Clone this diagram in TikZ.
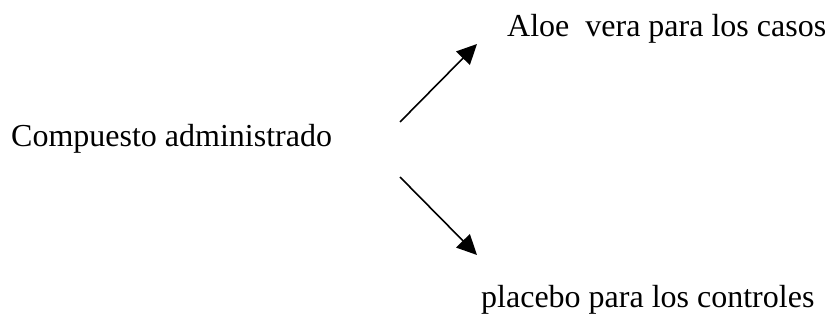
\documentclass[tikz,border=0pt]{standalone}
\usepackage{fontspec}
\setmainfont{Liberation Serif}
\usetikzlibrary{positioning, arrows.meta}

\begin{document}
\begin{tikzpicture}[x = 1pt, y = -1pt,
  label/.style = {inner sep = 0pt, anchor = base west,
    font = \fontsize{32}{38}\selectfont},
  edge/.style = {-{Triangle[length = 20pt, width = 19pt]}, line width = 1.6pt},
  ]

  \useasboundingbox (0,0) rectangle (827,320);

  \node[label] (comp) at (11,147) {Compuesto administrado};
  \node[label] (aloe) at (507,37) {Aloe\ \ vera para los casos};
  \node[label] (plac) at (481,308) {placebo para los controles};

  % arrow ends
  \coordinate (up0) at (400,122);
  \coordinate (up1) at (477,44);
  \coordinate (dn0) at (400,177);
  \coordinate (dn1) at (477,255);

  \draw[edge] (up0) to (up1);
  \draw[edge] (dn0) to (dn1);
\end{tikzpicture}
\end{document}
